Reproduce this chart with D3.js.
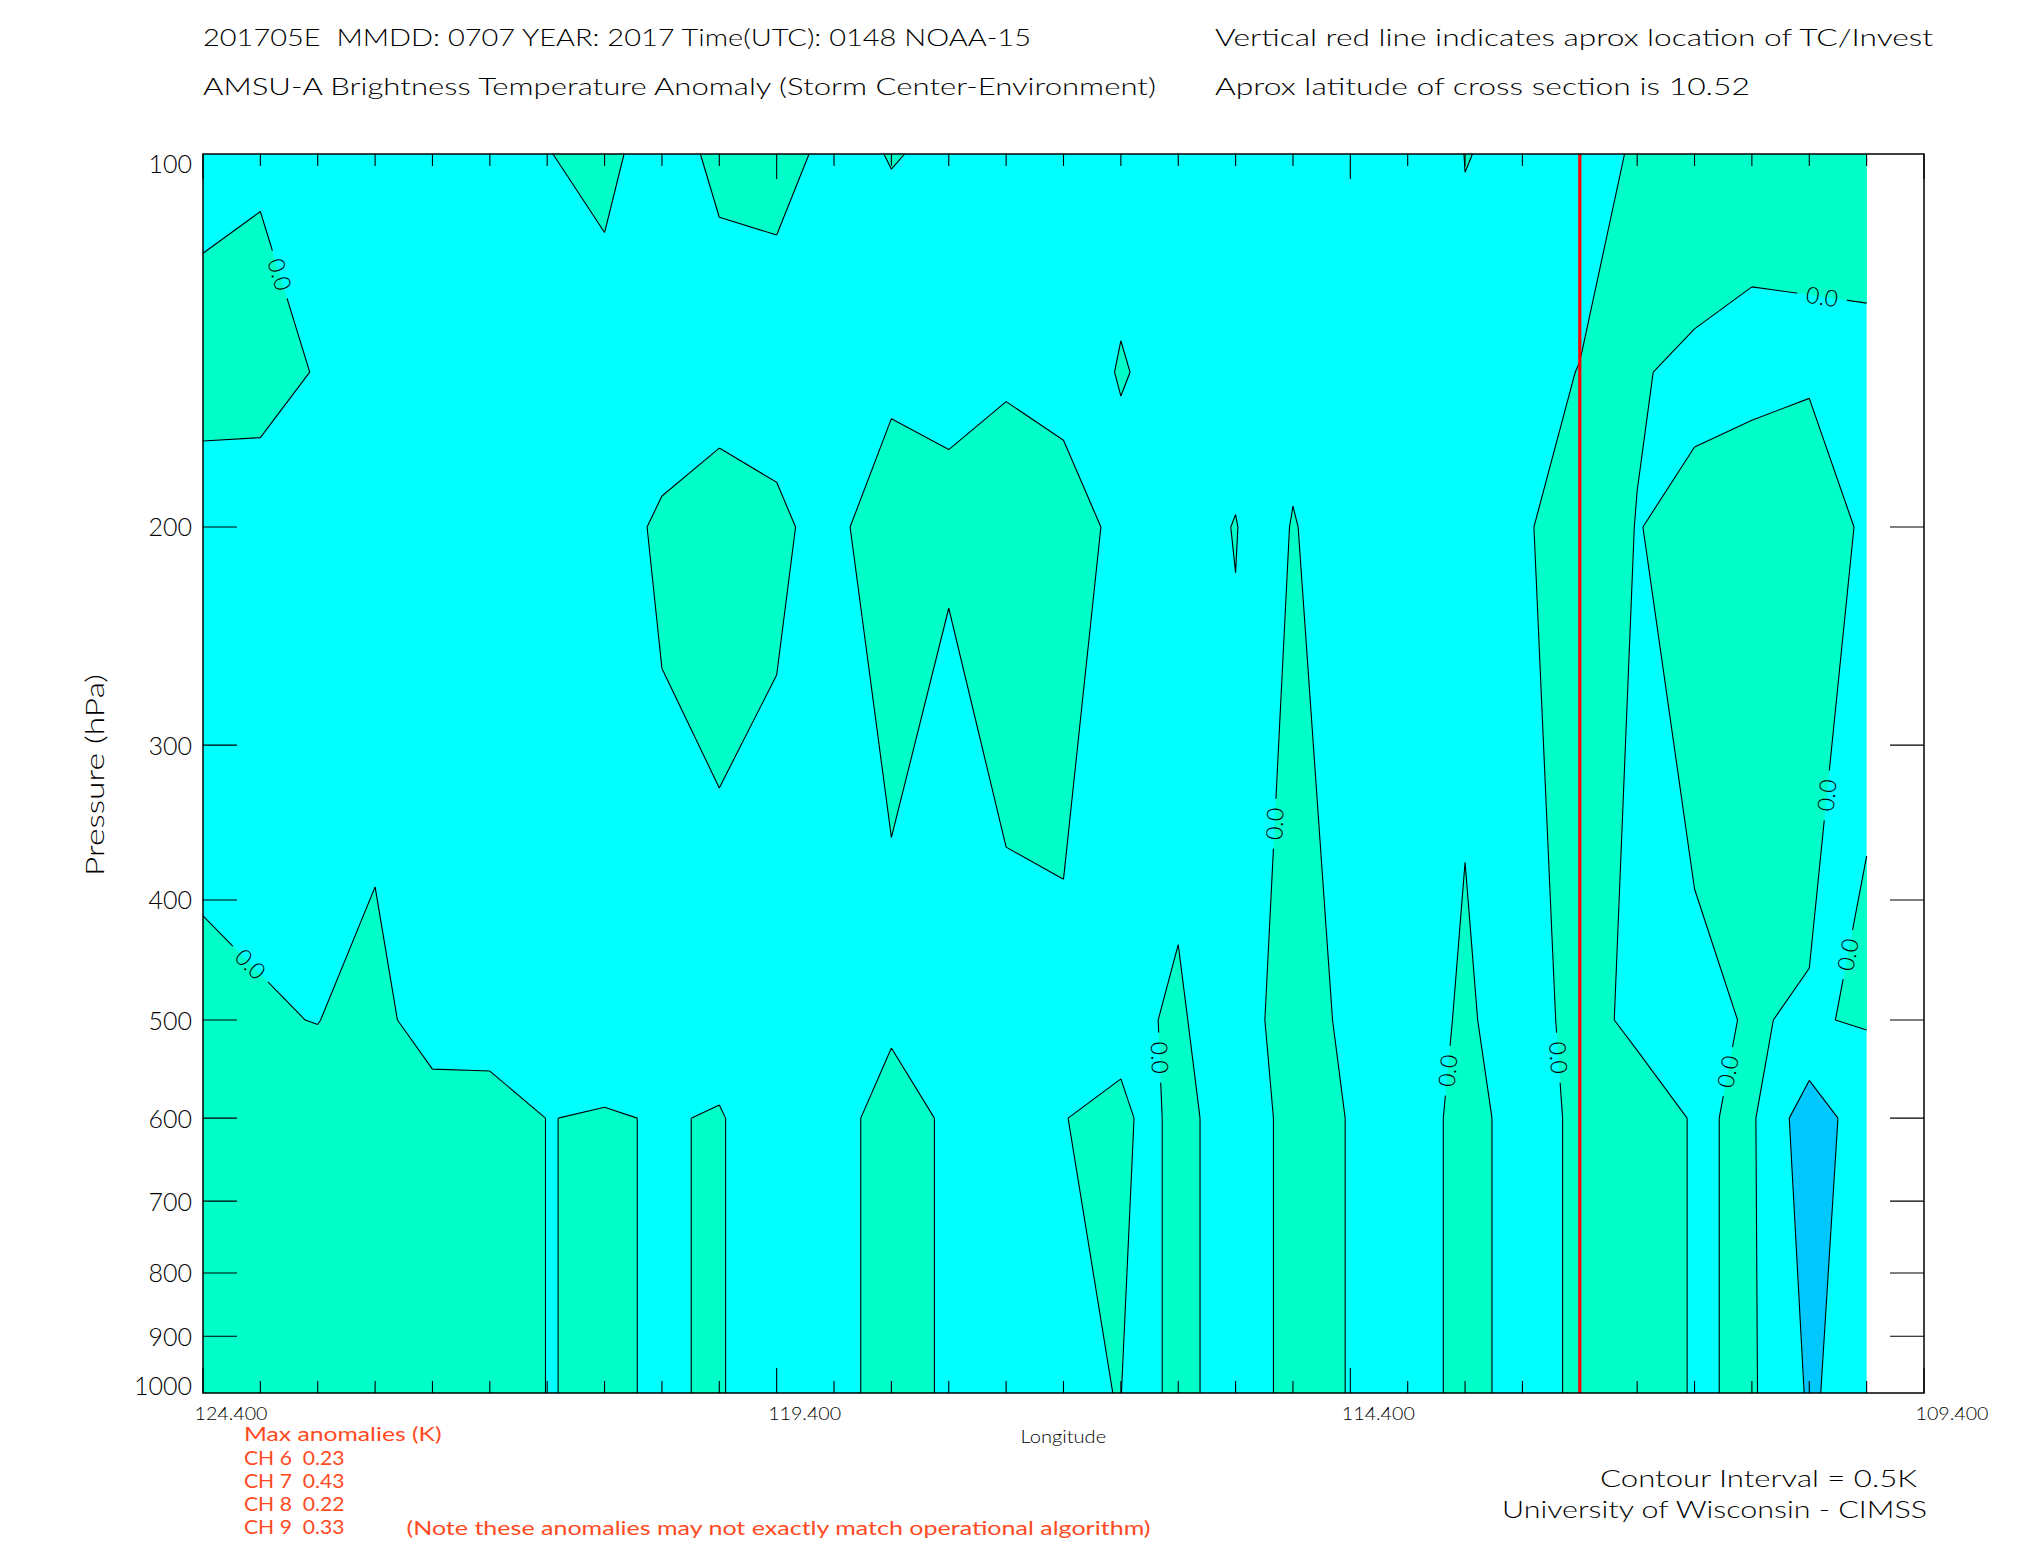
<!DOCTYPE html>
<html><head><meta charset="utf-8">
<script src="https://cdn.jsdelivr.net/npm/d3@7"></script>
<style>
body{margin:0;background:#fff;}
svg{display:block;}
text{font-family:Lato,"DejaVu Sans",sans-serif;font-weight:300;white-space:pre;}
</style></head><body>
<svg id="chart" width="2025" height="1550"></svg>
<script>
// ---------------- data ----------------
const longitudes = [124.4,123.9,123.4,122.9,122.4,121.9,121.4,120.9,120.4,119.9,119.4,118.9,118.4,117.9,117.4,116.9,116.4,116.15,115.9,115.4,115.15,114.9,114.4,113.9,113.4,112.9,112.4,111.9,111.4,110.9,110.4,109.9];
const pressureLevels = [100,150,200,500,600,1000];
// brightness temperature anomaly (K) per pressure level, one value per longitude
const anom100  = [-0.167,-0.053,-0.15,-0.2,-0.2,-0.2,-0.0095,0.0855,-0.166,0.0817,0.065,-0.05,0.0075,-0.025,-0.2,-0.2,-0.0867,-0.1,-0.2,-0.2,-0.2,-0.2,-0.2,-0.2,0.004,-0.027,-0.297,0.0838,0.358,0.105,0.0603,0.108];
const anom150  = [0.2,0.148,-0.024,-0.2,-0.2,-0.2,-0.2,-0.152,-0.28,-0.2,-0.11,-0.2,-0.1,-0.06,-0.047,-0.118,0.0146,-0.031,-0.2,-0.294,-0.2,-0.258,-0.2,-0.2,-0.0436,-0.1725,0.015,0.0344,-0.0885,-0.0674,-0.0332,-0.05];
const anom200  = [-0.25,-0.202,-0.3,-0.3,-0.25,-0.25,-0.25,-0.2,0.07,0.208,0.0446,-0.0906,0.233,0.06,0.2,0.15,-0.08,-0.1,-0.277,0.0255,-0.293,0.04,-0.404,-0.2,-0.17,-0.05,0.2,-0.0105,0.0945,0.15,0.163,-0.046];
const anom500  = [0.067,0.0207,-0.0058,0.111,-0.174,-0.322,-0.25,-0.317,-0.174,-0.185,-0.104,-0.2,-0.137,-0.304,-0.108,-0.06,-0.18,-0.0214,0.05,-0.25,-0.0041,0.2,-0.0899,-0.284,0.08,-0.284,0.206,-0.137,-0.0342,0.0114,-0.0191,0.0229];
const anom600  = [0.2,0.2,0.121,0.15,0.174,0.297,-0.0092,0.0392,-0.0296,0.0284,-0.23,-0.3,0.344,-0.115,-0.2,-0.0104,0.12,-0.141,0.179,-0.292,-0.141,0.3,-0.0297,-0.25,0.153,-0.173,0.074,0.305,-0.0453,0.06,-0.8,-0.2];
const anom1000 = [0.2,0.2,0.121,0.15,0.174,0.297,-0.0092,0.0392,-0.0296,0.0284,-0.23,-0.3,0.344,-0.115,-0.2,-0.0177,0.0029,-0.141,0.179,-0.292,-0.141,0.3,-0.0297,-0.25,0.153,-0.173,0.074,0.305,-0.0453,0.06,-0.555,-0.28];
const contourLevels = [-0.5, 0.0];
const tcLongitude = 112.4;
const xTickValues = [124.4,119.4,114.4,109.4];
const yTickValues = [100,200,300,400,500,600,700,800,900,1000];
const labelAnchors = [[123.72,125],[124.0,452],[110.3,132.6],[115.115,347],[110.29,329],[110.11,442],[116.01,536],[113.59,549],[112.55,536],[111.17,549]];
const titleLeft1 = "201705E  MMDD: 0707 YEAR: 2017 Time(UTC): 0148 NOAA-15";
const titleLeft2 = "AMSU-A Brightness Temperature Anomaly (Storm Center-Environment)";
const titleRight1 = "Vertical red line indicates aprox location of TC/Invest";
const titleRight2 = "Aprox latitude of cross section is 10.52";
const maxAnomalyChannels = ["CH 6","CH 7","CH 8","CH 9"];
const maxAnomalyValues = [0.23,0.43,0.22,0.33];

// ---------------- layout ----------------
const W = 2025, H = 1550;
const plot = {left:203, right:1924, top:154, bottom:1393};
const cNeg = "#00ffff", cPos = "#00ffc8", cLow = "#00c8ff", red = "#ff0000", txtRed = "#ff4a22";
const x = d3.scaleLinear().domain([124.4,109.4]).range([plot.left, plot.right]);
const y = d3.scaleLog().domain([100,1000]).range([plot.top, plot.bottom]);

const rows = [anom100, anom150, anom200, anom500, anom600, anom1000];
const n = longitudes.length, m = pressureLevels.length;
const grid = [];
rows.forEach(r => r.forEach(v => grid.push(v)));

const clamp = (v,a,b)=>Math.max(a,Math.min(b,v));
function gx2px(gx){
  const t = clamp(gx-0.5,0,n-1); const i0 = Math.min(n-2,Math.floor(t)); const f = t-i0;
  return x(longitudes[i0] + f*(longitudes[i0+1]-longitudes[i0]));
}
function gy2px(gy){
  const t = clamp(gy-0.5,0,m-1); const j0 = Math.min(m-2,Math.floor(t)); const f = t-j0;
  const a = y(pressureLevels[j0]), b = y(pressureLevels[j0+1]);
  return a + f*(b-a);
}
const eps = 1e-7;
function borderFlags(p){
  const tx = p[0]-0.5, ty = p[1]-0.5;
  return {l: tx<=eps, r: tx>=n-1-eps, t: ty<=eps, b: ty>=m-1-eps};
}
function sameBorder(a,b){
  const fa = borderFlags(a), fb = borderFlags(b);
  return (fa.l&&fb.l)||(fa.r&&fb.r)||(fa.t&&fb.t)||(fa.b&&fb.b);
}
function geomPath(geom){
  let d = "";
  geom.coordinates.forEach(poly=>poly.forEach(ring=>{
    d += "M" + ring.map(p=>gx2px(p[0]).toFixed(2)+","+gy2px(p[1]).toFixed(2)).join("L") + "Z";
  }));
  return d;
}
function geomSegments(geom){
  const segs = [];
  geom.coordinates.forEach(poly=>poly.forEach(ring=>{
    const pts = ring.slice();
    const f = pts[0], l = pts[pts.length-1];
    if (f[0]!==l[0]||f[1]!==l[1]) pts.push(f);
    for (let k=0;k<pts.length-1;k++){
      const a = pts[k], b = pts[k+1];
      if (sameBorder(a,b)) continue;
      segs.push([[gx2px(a[0]),gy2px(a[1])],[gx2px(b[0]),gy2px(b[1])]]);
    }
  }));
  return segs;
}
function segPath(segs){
  return segs.map(s=>"M"+s[0][0].toFixed(2)+","+s[0][1].toFixed(2)+"L"+s[1][0].toFixed(2)+","+s[1][1].toFixed(2)).join("");
}

const gen = d3.contours().size([n,m]);
const posGeom = gen.contour(grid, contourLevels[1]);
const lowGeom = gen.contour(grid.map(v=>-v), -contourLevels[0]);

const svg = d3.select("#chart");
svg.append("rect").attr("width",W).attr("height",H).attr("fill","#fff");
const defs = svg.append("defs");

const dx0 = x(d3.max(longitudes)), dx1 = x(d3.min(longitudes));
svg.append("rect").attr("x",dx0).attr("y",plot.top).attr("width",dx1-dx0).attr("height",plot.bottom-plot.top).attr("fill",cNeg);
svg.append("path").attr("d",geomPath(posGeom)).attr("fill",cPos).attr("fill-rule","evenodd");
svg.append("path").attr("d",geomPath(lowGeom)).attr("fill",cLow).attr("fill-rule","evenodd");

const zeroSegs = geomSegments(posGeom);
const lowSegs = geomSegments(lowGeom);

// labels on the zero contour
const labels = labelAnchors.map(([lon,p])=>{
  const ax = x(lon), ay = y(p);
  let best = null;
  zeroSegs.forEach(s=>{
    const [a,b] = s; const vx=b[0]-a[0], vy=b[1]-a[1]; const L2 = vx*vx+vy*vy; if (L2<1e-9) return;
    let t = ((ax-a[0])*vx+(ay-a[1])*vy)/L2; t = clamp(t,0,1);
    const px=a[0]+t*vx, py=a[1]+t*vy; const d2=(px-ax)**2+(py-ay)**2;
    if(!best||d2<best.d2) best={d2,px,py,ang:Math.atan2(vy,vx)*180/Math.PI};
  });
  let ang = best.ang; if (ang>90) ang-=180; if (ang<-90) ang+=180;
  return {x:best.px, y:best.py, ang};
});
const mask = defs.append("mask").attr("id","gap").attr("maskUnits","userSpaceOnUse")
  .attr("x",0).attr("y",0).attr("width",W).attr("height",H);
mask.append("rect").attr("width",W).attr("height",H).attr("fill","#fff");
labels.forEach(l=>{
  mask.append("rect").attr("x",-25).attr("y",-10).attr("width",50).attr("height",20).attr("fill","#000")
    .attr("transform",`translate(${l.x},${l.y}) rotate(${l.ang})`);
});
const lineG = svg.append("g").attr("mask","url(#gap)");
lineG.append("path").attr("d",segPath(zeroSegs)).attr("fill","none").attr("stroke","#000").attr("stroke-width",1.1);
lineG.append("path").attr("d",segPath(lowSegs)).attr("fill","none").attr("stroke","#000").attr("stroke-width",1.1);
labels.forEach(l=>{
  svg.append("text").attr("transform",`translate(${l.x},${l.y}) rotate(${l.ang})`)
    .attr("text-anchor","middle").attr("dy","0.36em").attr("font-size",23).attr("fill","#000")
    .text(d3.format(".1f")(contourLevels[1]));
});

// ticks
const tg = svg.append("g").attr("stroke","#000").attr("stroke-width",1.1);
d3.range(0,31).forEach(k=>{
  const lon = 124.4 - 0.5*k, px = x(lon), len = (k%10===0)?25:12;
  tg.append("line").attr("x1",px).attr("x2",px).attr("y1",plot.top).attr("y2",plot.top+len);
  tg.append("line").attr("x1",px).attr("x2",px).attr("y1",plot.bottom).attr("y2",plot.bottom-len);
});
yTickValues.filter(v=>v>100&&v<1000).forEach(v=>{
  tg.append("line").attr("x1",plot.left).attr("x2",plot.left+34).attr("y1",y(v)).attr("y2",y(v));
  tg.append("line").attr("x1",plot.right-34).attr("x2",plot.right).attr("y1",y(v)).attr("y2",y(v));
});

// TC red line
svg.append("line").attr("x1",x(tcLongitude)).attr("x2",x(tcLongitude)).attr("y1",plot.top).attr("y2",plot.bottom)
  .attr("stroke",red).attr("stroke-width",3.2);

// frame
svg.append("rect").attr("x",plot.left).attr("y",plot.top).attr("width",plot.right-plot.left).attr("height",plot.bottom-plot.top)
  .attr("fill","none").attr("stroke","#000").attr("stroke-width",1.5);

// axis labels
yTickValues.forEach(v=>{
  let by = y(v)+9.5; if (v===100) by = 172.5; if (v===1000) by = 1394.5;
  svg.append("text").attr("x",192).attr("y",by).attr("text-anchor","end").attr("font-size",25).attr("fill","#000").text(v);
});
xTickValues.forEach(v=>{
  svg.append("text").attr("x",x(v)+28).attr("y",1420).attr("text-anchor","middle").attr("font-size",17.5)
    .attr("textLength",73).attr("lengthAdjust","spacingAndGlyphs").attr("fill","#000").text(d3.format(".3f")(v));
});
svg.append("text").attr("x",1020.6).attr("y",1443).attr("font-size",17.5).attr("textLength",85.5)
  .attr("lengthAdjust","spacingAndGlyphs").attr("fill","#000").text("Longitude");
svg.append("text").attr("transform","translate(103.5,775) rotate(-90)").attr("text-anchor","middle")
  .attr("font-size",25).attr("textLength",202).attr("lengthAdjust","spacingAndGlyphs").attr("fill","#000").text("Pressure (hPa)");

// titles
function t(str,x0,x1,by,fs,col,fw){
  svg.append("text").attr("x",x0).attr("y",by).attr("font-size",fs).attr("textLength",x1-x0)
    .attr("lengthAdjust","spacingAndGlyphs").attr("fill",col||"#000").style("font-weight",fw||300)
    .attr("xml:space","preserve").text(str);
}
t(titleLeft1,203,1031,46,23);
t(titleLeft2,203,1156,94.5,23);
t(titleRight1,1215,1933,46,23);
t(titleRight2,1215,1750,94.5,23);

// max anomalies block
t("Max anomalies (K)",244,441.5,1441,18.5,txtRed,400);
maxAnomalyChannels.forEach((c,i)=>{
  t(c+"  "+d3.format(".2f")(maxAnomalyValues[i]),244,344.5,1465+i*23.1,18.5,txtRed,400);
});
t("(Note these anomalies may not exactly match operational algorithm)",406.5,1150.5,1534.5,18.5,txtRed,400);

t("Contour Interval = 0.5K",1600,1917,1487,24);
t("University of Wisconsin - CIMSS",1502,1927,1517.5,24);
</script>
</body></html>
